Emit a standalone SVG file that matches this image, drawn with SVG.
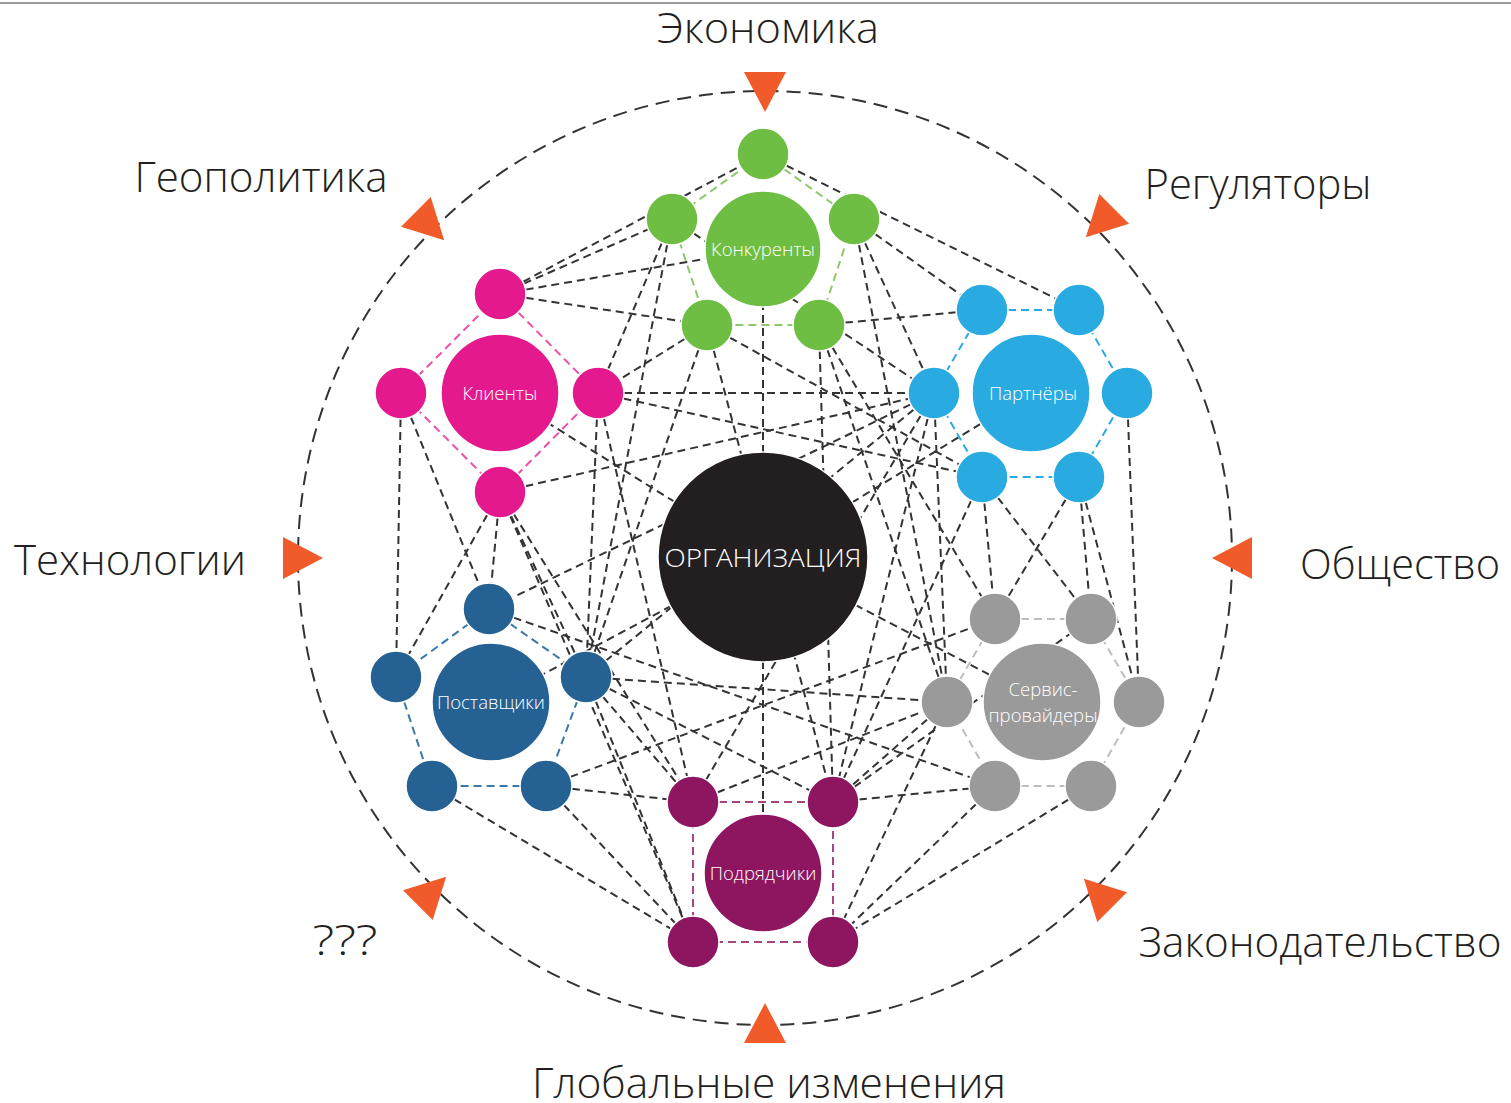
<svg xmlns="http://www.w3.org/2000/svg" xmlns:xlink="http://www.w3.org/1999/xlink" width="1511" height="1103" viewBox="0 0 1511 1103">
<defs>
<style>
.lbl{font-family:"Open Sans","Liberation Sans",sans-serif;font-size:42px;font-weight:300;fill:#231f20;text-anchor:middle}
.nl{font-family:"Open Sans","Liberation Sans",sans-serif;font-size:18.5px;font-weight:300;fill:#fff;text-anchor:middle}
.c{fill:none;stroke:#333;stroke-width:2;stroke-dasharray:8 5}
.ring{fill:none;stroke:#333;stroke-width:2;stroke-dasharray:14 8}
.g circle{stroke:#fff;stroke-width:1.5}
.gr{fill:#6fbe44}.pk{fill:#e4198d}.bl{fill:#29abe2}.nv{fill:#266193}.gy{fill:#9a9a9a}.pu{fill:#8e1660}
.o{fill:none;stroke-width:2;stroke-dasharray:8 5}
</style>
<polygon id="tri" points="-20,-21 -20,21 20,0" fill="#f15a29"/>
</defs>
<rect width="1511" height="1103" fill="#fff"/>
<line x1="0" y1="3" x2="1511" y2="3" stroke="#9a9a9a" stroke-width="2"/>
<circle class="ring" cx="765" cy="558" r="467"/>
<g id="connectors">
<line class="c" x1="763" y1="557" x2="763" y2="249"/>
<line class="c" x1="763" y1="557" x2="500" y2="393"/>
<line class="c" x1="763" y1="557" x2="1031" y2="393"/>
<line class="c" x1="763" y1="557" x2="491" y2="702"/>
<line class="c" x1="763" y1="557" x2="1042" y2="702"/>
<line class="c" x1="763" y1="557" x2="763" y2="873"/>
<line class="c" x1="500" y1="294" x2="763" y2="154"/>
<line class="c" x1="500" y1="294" x2="672" y2="219"/>
<line class="c" x1="500" y1="294" x2="763" y2="249"/>
<line class="c" x1="500" y1="294" x2="707" y2="325"/>
<line class="c" x1="672" y1="219" x2="598" y2="393"/>
<line class="c" x1="707" y1="325" x2="598" y2="393"/>
<line class="c" x1="598" y1="393" x2="934" y2="393"/>
<line class="c" x1="598" y1="393" x2="982" y2="477"/>
<line class="c" x1="598" y1="393" x2="586" y2="677"/>
<line class="c" x1="598" y1="393" x2="693" y2="802"/>
<line class="c" x1="500" y1="492" x2="934" y2="393"/>
<line class="c" x1="500" y1="492" x2="489" y2="609"/>
<line class="c" x1="500" y1="492" x2="396" y2="677"/>
<line class="c" x1="500" y1="492" x2="586" y2="677"/>
<line class="c" x1="500" y1="492" x2="693" y2="802"/>
<line class="c" x1="500" y1="492" x2="693" y2="942"/>
<line class="c" x1="401" y1="393" x2="396" y2="677"/>
<line class="c" x1="401" y1="393" x2="489" y2="609"/>
<line class="c" x1="763" y1="154" x2="1079" y2="310"/>
<line class="c" x1="854" y1="219" x2="982" y2="310"/>
<line class="c" x1="819" y1="325" x2="982" y2="310"/>
<line class="c" x1="672" y1="219" x2="934" y2="393"/>
<line class="c" x1="854" y1="219" x2="934" y2="393"/>
<line class="c" x1="707" y1="325" x2="982" y2="477"/>
<line class="c" x1="672" y1="219" x2="586" y2="677"/>
<line class="c" x1="707" y1="325" x2="586" y2="677"/>
<line class="c" x1="707" y1="325" x2="833" y2="802"/>
<line class="c" x1="819" y1="325" x2="833" y2="802"/>
<line class="c" x1="934" y1="393" x2="693" y2="802"/>
<line class="c" x1="934" y1="393" x2="833" y2="802"/>
<line class="c" x1="934" y1="393" x2="947" y2="702"/>
<line class="c" x1="934" y1="393" x2="586" y2="677"/>
<line class="c" x1="934" y1="393" x2="489" y2="609"/>
<line class="c" x1="982" y1="477" x2="833" y2="802"/>
<line class="c" x1="982" y1="477" x2="995" y2="619"/>
<line class="c" x1="982" y1="477" x2="1091" y2="619"/>
<line class="c" x1="1079" y1="477" x2="995" y2="619"/>
<line class="c" x1="1079" y1="477" x2="1091" y2="619"/>
<line class="c" x1="1079" y1="477" x2="1139" y2="702"/>
<line class="c" x1="1127" y1="393" x2="1139" y2="702"/>
<line class="c" x1="819" y1="325" x2="995" y2="619"/>
<line class="c" x1="854" y1="219" x2="947" y2="702"/>
<line class="c" x1="819" y1="325" x2="947" y2="702"/>
<line class="c" x1="489" y1="609" x2="995" y2="786"/>
<line class="c" x1="586" y1="677" x2="947" y2="702"/>
<line class="c" x1="586" y1="677" x2="833" y2="802"/>
<line class="c" x1="586" y1="677" x2="693" y2="802"/>
<line class="c" x1="586" y1="677" x2="693" y2="942"/>
<line class="c" x1="546" y1="786" x2="995" y2="619"/>
<line class="c" x1="546" y1="786" x2="693" y2="802"/>
<line class="c" x1="546" y1="786" x2="693" y2="942"/>
<line class="c" x1="432" y1="786" x2="693" y2="942"/>
<line class="c" x1="947" y1="702" x2="833" y2="802"/>
<line class="c" x1="947" y1="702" x2="833" y2="942"/>
<line class="c" x1="995" y1="786" x2="833" y2="942"/>
<line class="c" x1="1091" y1="786" x2="833" y2="942"/>
<line class="c" x1="833" y1="802" x2="995" y2="786"/>
<line class="c" x1="693" y1="802" x2="947" y2="702"/>
<line class="c" x1="833" y1="802" x2="1091" y2="619"/>
</g>
<g id="node-konkurenty">
<polygon class="o" stroke="#8cc96a" points="763,154 854,219 819,325 707,325 672,219"/>
<g class="g">
<circle class="gr" cx="763" cy="154" r="26"/><circle class="gr" cx="672" cy="219" r="26"/><circle class="gr" cx="854" cy="219" r="26"/><circle class="gr" cx="707" cy="325" r="26"/><circle class="gr" cx="819" cy="325" r="26"/>
<circle class="gr" cx="763" cy="249" r="58"/>
</g>
<text class="nl" x="763" y="256">Конкуренты</text>
</g>
<g id="node-klienty">
<polygon class="o" stroke="#ee4fa6" points="500,294 598,393 500,492 401,393"/>
<g class="g">
<circle class="pk" cx="500" cy="294" r="26"/><circle class="pk" cx="401" cy="393" r="26"/><circle class="pk" cx="598" cy="393" r="26"/><circle class="pk" cx="500" cy="492" r="26"/>
<circle class="pk" cx="500" cy="393" r="59"/>
</g>
<text class="nl" x="500" y="400">Клиенты</text>
</g>
<g id="node-partnery">
<polygon class="o" stroke="#29abe2" points="982,310 1079,310 1127,393 1079,477 982,477 934,393"/>
<g class="g">
<circle class="bl" cx="982" cy="310" r="26"/><circle class="bl" cx="1079" cy="310" r="26"/><circle class="bl" cx="934" cy="393" r="26"/><circle class="bl" cx="1127" cy="393" r="26"/><circle class="bl" cx="982" cy="477" r="26"/><circle class="bl" cx="1079" cy="477" r="26"/>
<circle class="bl" cx="1031" cy="393" r="59"/>
</g>
<text class="nl" x="1033" y="400">Партнёры</text>
</g>
<g id="node-postavshchiki">
<polygon class="o" stroke="#3a78aa" points="489,609 586,677 546,786 432,786 396,677"/>
<g class="g">
<circle class="nv" cx="489" cy="609" r="26"/><circle class="nv" cx="396" cy="677" r="26"/><circle class="nv" cx="586" cy="677" r="26"/><circle class="nv" cx="432" cy="786" r="26"/><circle class="nv" cx="546" cy="786" r="26"/>
<circle class="nv" cx="491" cy="702" r="59"/>
</g>
<text class="nl" x="491" y="709">Поставщики</text>
</g>
<g id="node-servis">
<polygon class="o" stroke="#bdbdbd" points="995,619 1091,619 1139,702 1091,786 995,786 947,702"/>
<g class="g">
<circle class="gy" cx="995" cy="619" r="26"/><circle class="gy" cx="1091" cy="619" r="26"/><circle class="gy" cx="947" cy="702" r="26"/><circle class="gy" cx="1139" cy="702" r="26"/><circle class="gy" cx="995" cy="786" r="26"/><circle class="gy" cx="1091" cy="786" r="26"/>
<circle class="gy" cx="1042" cy="702" r="59"/>
</g>
<text class="nl" x="1043" y="696">Сервис-</text>
<text class="nl" x="1043" y="722">провайдеры</text>
</g>
<g id="node-podryadchiki">
<polygon class="o" stroke="#a8447f" points="693,802 833,802 833,942 693,942"/>
<g class="g">
<circle class="pu" cx="693" cy="802" r="26"/><circle class="pu" cx="833" cy="802" r="26"/><circle class="pu" cx="693" cy="942" r="26"/><circle class="pu" cx="833" cy="942" r="26"/>
<circle class="pu" cx="763" cy="873" r="59"/>
</g>
<text class="nl" x="763" y="880">Подрядчики</text>
</g>
<g id="node-organizatsiya">
<circle cx="763" cy="557" r="105" fill="#231f20" stroke="#fff" stroke-width="1.5"/>
<text x="763" y="567" font-family="Open Sans, Liberation Sans, sans-serif" font-size="26" font-weight="300" fill="#fff" text-anchor="middle" textLength="197" lengthAdjust="spacingAndGlyphs">ОРГАНИЗАЦИЯ</text>
</g>
<g id="factors">
<use xlink:href="#tri" transform="translate(765,92) rotate(90)"/>
<use xlink:href="#tri" transform="translate(1100,223) rotate(135)"/>
<use xlink:href="#tri" transform="translate(1232,558) rotate(180)"/>
<use xlink:href="#tri" transform="translate(1098,893) rotate(225)"/>
<use xlink:href="#tri" transform="translate(765,1023) rotate(270)"/>
<use xlink:href="#tri" transform="translate(432,891) rotate(315)"/>
<use xlink:href="#tri" transform="translate(303,558)"/>
<use xlink:href="#tri" transform="translate(430,226) rotate(45)"/>
<text class="lbl" x="768" y="43" textLength="222" lengthAdjust="spacingAndGlyphs">Экономика</text>
<text class="lbl" x="1258" y="199" textLength="227" lengthAdjust="spacingAndGlyphs">Регуляторы</text>
<text class="lbl" x="1400" y="579" textLength="200" lengthAdjust="spacingAndGlyphs">Общество</text>
<text class="lbl" x="1320" y="957" textLength="363" lengthAdjust="spacingAndGlyphs">Законодательство</text>
<text class="lbl" x="769" y="1098" textLength="474" lengthAdjust="spacingAndGlyphs">Глобальные изменения</text>
<text class="lbl" x="345" y="955" textLength="65" lengthAdjust="spacingAndGlyphs">???</text>
<text class="lbl" x="130" y="575" textLength="232" lengthAdjust="spacingAndGlyphs">Технологии</text>
<text class="lbl" x="261" y="192" textLength="253" lengthAdjust="spacingAndGlyphs">Геополитика</text>
</g>
</svg>
